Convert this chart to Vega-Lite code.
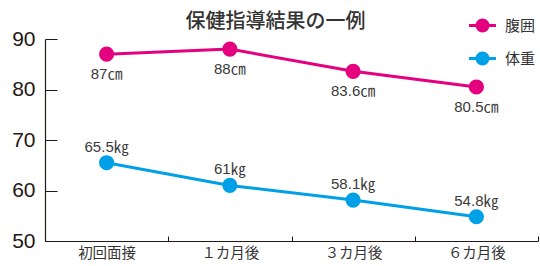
{
  "$schema": "https://vega.github.io/schema/vega-lite/v6.json",
  "width": 493,
  "height": 202,
  "autosize": {"type": "none"},
  "padding": {"left": 45, "top": 39, "right": 2, "bottom": 25},
  "background": "#ffffff",
  "title": {
    "text": "保健指導結果の一例",
    "fontSize": 20,
    "font": "Noto Sans CJK JP",
    "fontWeight": 500,
    "color": "#333333",
    "anchor": "middle",
    "dx": -16,
    "dy": 24,
    "offset": 10
  },
  "data": {
    "values": [
      {"time": "初回面接", "series": "腹囲", "value": 87, "label": "87㎝"},
      {"time": "１カ月後", "series": "腹囲", "value": 88, "label": "88㎝"},
      {"time": "３カ月後", "series": "腹囲", "value": 83.6, "label": "83.6㎝"},
      {"time": "６カ月後", "series": "腹囲", "value": 80.5, "label": "80.5㎝"},
      {"time": "初回面接", "series": "体重", "value": 65.5, "label": "65.5㎏"},
      {"time": "１カ月後", "series": "体重", "value": 61, "label": "61㎏"},
      {"time": "３カ月後", "series": "体重", "value": 58.1, "label": "58.1㎏"},
      {"time": "６カ月後", "series": "体重", "value": 54.8, "label": "54.8㎏"}
    ]
  },
  "encoding": {
    "x": {
      "field": "time",
      "type": "nominal",
      "sort": ["初回面接", "１カ月後", "３カ月後", "６カ月後"],
      "scale": {"type": "band", "paddingInner": 0, "paddingOuter": 0},
      "axis": {
        "title": null,
        "labelAngle": 0,
        "tickBand": "extent",
        "tickSize": -5,
        "tickColor": "#231815",
        "domainColor": "#231815",
        "domainWidth": 1.2,
        "labelPadding": 10,
        "labelFontSize": 14.5,
        "labelFont": "Noto Sans CJK JP",
        "labelColor": "#333333",
        "grid": false
      }
    },
    "y": {
      "field": "value",
      "type": "quantitative",
      "scale": {"domain": [50, 90], "nice": false, "zero": false},
      "axis": {
        "title": null,
        "values": [50, 60, 70, 80, 90],
        "tickSize": -12,
        "tickColor": "#231815",
        "domainColor": "#231815",
        "domainWidth": 1.2,
        "labelPadding": 22,
        "labelFontSize": 21,
        "labelFont": "Liberation Sans",
        "labelColor": "#231815",
        "grid": false
      }
    }
  },
  "layer": [
    {
      "mark": {"type": "line", "strokeWidth": 3},
      "encoding": {
        "color": {
          "field": "series",
          "type": "nominal",
          "scale": {"domain": ["腹囲", "体重"], "range": ["#E4007F", "#00A0E9"]},
          "legend": {
            "orient": "none",
            "legendX": 430,
            "legendY": -21,
            "title": null,
            "padding": 0,
            "symbolType": "M-2.45,0H2.45M1,0A1,1,0,1,1,-1,0A1,1,0,1,1,1,0Z",
            "symbolSize": 121,
            "symbolStrokeWidth": 3,
            "labelFontSize": 15,
            "labelFont": "Noto Sans CJK JP",
            "labelColor": "#333333",
            "labelOffset": 15,
            "rowPadding": 10,
            "encode": {
              "symbols": {
                "update": {
                  "fill": {"scale": "color", "field": "value"},
                  "stroke": {"scale": "color", "field": "value"},
                  "opacity": {"value": 1}
                }
              }
            }
          }
        }
      }
    },
    {
      "mark": {"type": "point", "filled": true, "size": 230, "opacity": 1},
      "encoding": {
        "color": {"field": "series", "type": "nominal", "legend": null}
      }
    },
    {
      "transform": [{"filter": "datum.series === '腹囲'"}],
      "mark": {"type": "text", "dy": 20, "fontSize": 15, "font": "Liberation Sans, Noto Sans CJK JP", "color": "#3a3a3a", "baseline": "middle"},
      "encoding": {"text": {"field": "label"}}
    },
    {
      "transform": [{"filter": "datum.series === '体重'"}],
      "mark": {"type": "text", "dy": -16, "fontSize": 15, "font": "Liberation Sans, Noto Sans CJK JP", "color": "#3a3a3a", "baseline": "middle"},
      "encoding": {"text": {"field": "label"}}
    }
  ],
  "config": {"view": {"stroke": null}}
}
